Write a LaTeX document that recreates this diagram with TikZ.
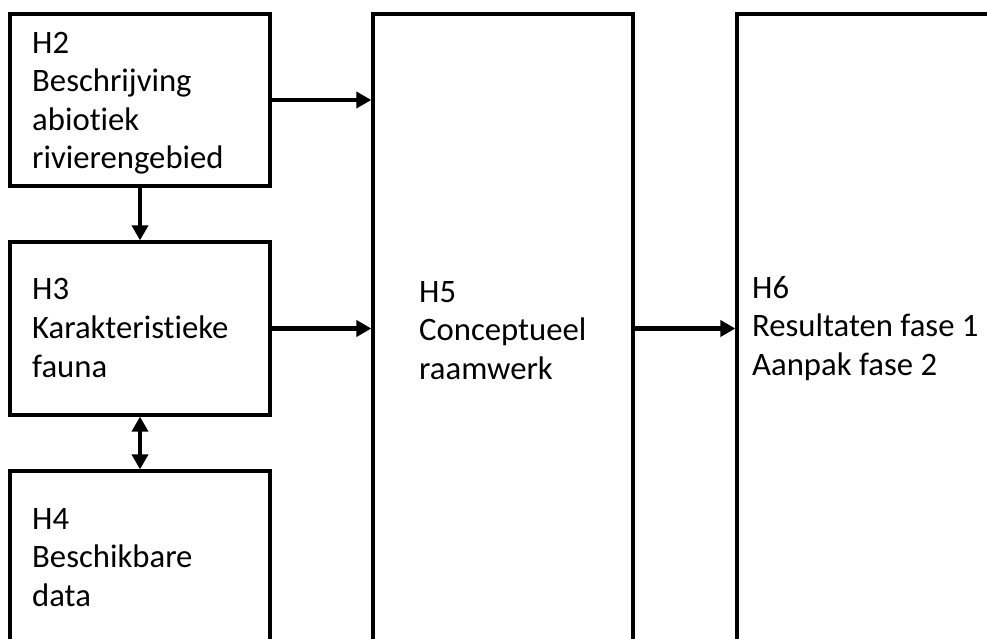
\documentclass[tikz,border=0pt]{standalone}
\usepackage{fontspec}
\setmainfont{Carlito}[Ligatures=NoCommon]
\usetikzlibrary{arrows.meta}
\begin{document}
\begin{tikzpicture}[x=1pt,y=-1pt,
  box/.style={draw,line width=3.3pt,rectangle,inner sep=0pt},
  lbl/.style={anchor=base west,inner sep=0pt,font=\fontsize{32.7}{38.5}\selectfont},
  arr/.style={line width=4.5pt,-{Triangle[length=15pt,width=16pt]}},
  darr/.style={line width=4.5pt,{Triangle[length=15pt,width=16pt]}-{Triangle[length=15pt,width=16pt]}}]
\useasboundingbox (0,0) rectangle (987,639);
\clip (0,0) rectangle (987,639);
% chapter boxes
\node[box,minimum width=260pt,minimum height=172pt] (h2) at (140,100) {};
\node[box,minimum width=260pt,minimum height=173pt] (h3) at (140,328.5) {};
\node[box,minimum width=260pt,minimum height=229pt] (h4) at (140,585.5) {};
\node[box,minimum width=260pt,minimum height=686pt] (h5) at (503,357) {};
\node[box,minimum width=363pt,minimum height=686pt] (h6) at (918.5,357) {};
% box texts
\node[lbl] (h2a) at (32,53.3) {H2};
\node[lbl] (h2b) at (32,91.8) {Beschrijving};
\node[lbl] (h2c) at (32,130.3) {abiotiek};
\node[lbl] (h2d) at (32,168.8) {rivierengebied};
\node[lbl] (h3a) at (32,299.3) {H3};
\node[lbl] (h3b) at (32,338.3) {Karakteristieke};
\node[lbl] (h3c) at (32,377.3) {fauna};
\node[lbl] (h4a) at (32,529) {H4};
\node[lbl] (h4b) at (32,567.5) {Beschikbare};
\node[lbl] (h4c) at (32,606) {data};
\node[lbl] (h5a) at (419,302) {H5};
\node[lbl] (h5b) at (419,340.5) {Conceptueel};
\node[lbl] (h5c) at (419,379) {raamwerk};
\node[lbl] (h6a) at (752,298) {H6};
\node[lbl] (h6b) at (752,336.5) {Resultaten fase 1};
\node[lbl] (h6c) at (752,375) {Aanpak fase 2};
% connectors
\draw[arr] (h2.east) -- (h2.east -| h5.west);
\draw[arr] (h3.east) -- (h3.east -| h5.west);
\draw[arr] (h3.east -| h5.east) -- (h3.east -| h6.west);
\draw[arr] (h2.south) -- (h3.north);
\draw[darr] (h3.south) -- (h4.north);
\end{tikzpicture}
\end{document}
